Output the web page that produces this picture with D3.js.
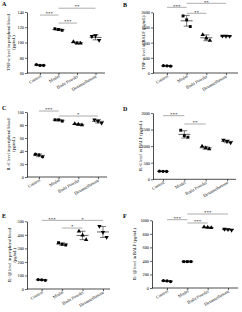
<!DOCTYPE html>
<html><head><meta charset="utf-8">
<script src="https://cdn.jsdelivr.net/npm/d3@7"></script>
<style>
html,body{margin:0;padding:0;background:#fff;}
svg{display:block;}
text{font-family:"Liberation Serif","Times New Roman",serif;fill:#000;}
</style></head>
<body>
<svg id="chart" width="242" height="312"></svg>
<script>
// ---- data ----
const categories = ["Control", "Model", "Budu Powder", "Dexamethasone"];

const tnfBlood = [[71, 70, 70], [118, 117, 116], [101, 99, 99], [108, 109, 103]];
const tnfBalf  = [[240, 235, 225], [1880, 1750, 1530], [1260, 1150, 1070], [1220, 1215, 1210]];
const il6Blood = [[35, 34, 31], [88, 88, 86], [82, 81, 80], [88, 86, 83]];
const il6Balf  = [[245, 240, 235], [1480, 1315, 1270], [995, 945, 915], [1185, 1145, 1105]];
const il1bBlood = [[70, 68, 64], [342, 330, 325], [426, 397, 364], [463, 419, 382]];
const il1bBalf  = [[110, 105, 95], [390, 390, 390], [900, 895, 890], [870, 865, 855]];

const tnfBloodTicks = [60, 80, 100, 120, 140];
const tnfBalfTicks = [0, 500, 1000, 1500, 2000];
const il6BloodTicks = [0, 20, 40, 60, 80, 100];
const il6BalfTicks = [0, 500, 1000, 1500, 2000];
const il1bBloodTicks = [0, 100, 200, 300, 400, 500];
const il1bBalfTicks = [0, 200, 400, 600, 800, 1000];

// significance: [group a, group b, label, bracket height in data units]
const tnfBloodSig = [[0, 1, "***", 136], [1, 2, "***", 125.5], [1, 3, "**", 145]];
const tnfBalfSig = [[0, 1, "***", 2165], [1, 2, "**", 1967], [1, 3, "**", 2297]];
const il6BloodSig = [[0, 1, "***", 101.5], [1, 3, "*", 93.8]];
const il6BalfSig = [[0, 1, "***", 1919], [1, 2, "**", 1668]];
const il1bBloodSig = [[0, 1, "***", 507], [1, 3, "*", 507], [1, 2, "*", 450]];
const il1bBalfSig = [[0, 1, "***", 1009], [1, 3, "***", 1093], [1, 2, "***", 960]];

const titles = {
  A: ["TNF-α level in peripheral blood", "(pg/mL)"],
  B: ["TNF-α level in BALF (pg/mL)"],
  C: ["IL-6 level in peripheral blood", "(pg/mL)"],
  D: ["IL-6 level in BALF (pg/mL)"],
  E: ["IL-1β level in peripheral blood", "(pg/mL)"],
  F: ["IL-1β level in BALF (pg/mL)"]
};

// ---- layout ----
const panels = [
  {id: "A", data: tnfBlood, ticks: tnfBloodTicks, sig: tnfBloodSig,
   x0: 27, x1: 105, yT: 12, yB: 73, c0: 40, c1: 95.5, tx: [9.5, 14.5], lx: 2, ly: 6},
  {id: "B", data: tnfBalf, ticks: tnfBalfTicks, sig: tnfBalfSig,
   x0: 153, x1: 238, yT: 12.3, yB: 73, c0: 167, c1: 226, tx: [145], lx: 123, ly: 7},
  {id: "C", data: il6Blood, ticks: il6BloodTicks, sig: il6BloodSig,
   x0: 27, x1: 107, yT: 112, yB: 177, c0: 39, c1: 98, tx: [10, 15], lx: 2, ly: 110},
  {id: "D", data: il6Balf, ticks: il6BalfTicks, sig: il6BalfSig,
   x0: 153, x1: 236, yT: 113, yB: 179.3, c0: 163, c1: 227, tx: [142], lx: 123, ly: 111},
  {id: "E", data: il1bBlood, ticks: il1bBloodTicks, sig: il1bBloodSig,
   x0: 27, x1: 110, yT: 221.3, yB: 289, c0: 41.7, c1: 103, tx: [11, 15.5], lx: 2, ly: 218},
  {id: "F", data: il1bBalf, ticks: il1bBalfTicks, sig: il1bBalfSig,
   x0: 152, x1: 238, yT: 220.3, yB: 288, c0: 167, c1: 228, tx: [136], lx: 123, ly: 218}
];

const symbols = [d3.symbolCircle, d3.symbolSquare, d3.symbolTriangle, d3.symbolTriangle];
const svg = d3.select("#chart");

panels.forEach(p => {
  const g = svg.append("g");
  const y = d3.scaleLinear()
    .domain([p.ticks[0], p.ticks[p.ticks.length - 1]])
    .range([p.yB, p.yT]);
  const x = d3.scalePoint().domain(categories).range([p.c0, p.c1]);

  // y axis
  const ya = g.append("g").attr("transform", `translate(${p.x0},0)`)
    .call(d3.axisLeft(y).tickValues(p.ticks).tickFormat(d3.format("d"))
      .tickSize(2).tickPadding(1).tickSizeOuter(0));
  ya.select(".domain").attr("stroke", "#000").attr("stroke-width", 0.7);
  ya.selectAll(".tick line").attr("stroke", "#000").attr("stroke-width", 0.6);
  ya.selectAll(".tick text").attr("font-size", 4.3).attr("font-family", "Liberation Serif");

  // x axis
  g.append("line").attr("x1", p.x0).attr("x2", p.x1).attr("y1", p.yB).attr("y2", p.yB)
    .attr("stroke", "#000").attr("stroke-width", 0.7);
  const xa = g.append("g").attr("transform", `translate(0,${p.yB})`)
    .call(d3.axisBottom(x).tickSize(2).tickSizeOuter(0));
  xa.select(".domain").remove();
  xa.selectAll(".tick line").attr("stroke", "#000").attr("stroke-width", 0.6);
  xa.selectAll(".tick text")
    .attr("font-size", 4.4).attr("font-family", "Liberation Serif")
    .attr("text-anchor", "end").attr("dy", 0).attr("y", 0)
    .attr("transform", "translate(1,4) rotate(-30)");

  // y title
  const title = titles[p.id];
  const ym = (p.yB + p.yT) / 2;
  title.forEach((t, i) => {
    g.append("text").attr("transform", `translate(${p.tx[i]},${ym}) rotate(-90)`)
      .attr("text-anchor", "middle").attr("font-size", 4.4).text(t);
  });

  // panel letter
  g.append("text").attr("x", p.lx).attr("y", p.ly).attr("font-size", 6)
    .attr("font-weight", "bold").text(p.id);

  // groups
  p.data.forEach((vals, gi) => {
    const cx = x(categories[gi]);
    const m = d3.mean(vals), sd = d3.deviation(vals);
    const ebc = "#222";
    g.append("line").attr("x1", cx - 6).attr("x2", cx + 6).attr("y1", y(m)).attr("y2", y(m))
      .attr("stroke", ebc).attr("stroke-width", 0.7);
    g.append("line").attr("x1", cx).attr("x2", cx).attr("y1", y(m - sd)).attr("y2", y(m + sd))
      .attr("stroke", ebc).attr("stroke-width", 0.6);
    [m - sd, m + sd].forEach(v => g.append("line")
      .attr("x1", cx - 3).attr("x2", cx + 3).attr("y1", y(v)).attr("y2", y(v))
      .attr("stroke", ebc).attr("stroke-width", 0.6));
    vals.forEach((v, k) => {
      const px = cx + (k - 1) * 3.6;
      g.append("path").attr("d", d3.symbol(symbols[gi], 8.5)())
        .attr("transform", `translate(${px},${y(v)})${gi === 3 ? " rotate(180)" : ""}`)
        .attr("fill", "#000");
    });
  });

  // significance brackets
  p.sig.forEach(([a, b, lab, h]) => {
    const xa0 = x(categories[a]), xb0 = x(categories[b]);
    const yy = y(h);
    g.append("line").attr("x1", xa0).attr("x2", xb0).attr("y1", yy).attr("y2", yy)
      .attr("stroke", "#8a8a8a").attr("stroke-width", 0.7);
    g.append("text").attr("x", (xa0 + xb0) / 2).attr("y", yy + 0.3)
      .attr("text-anchor", "middle").attr("font-size", 5).text(lab);
  });
});
</script>
</body></html>
